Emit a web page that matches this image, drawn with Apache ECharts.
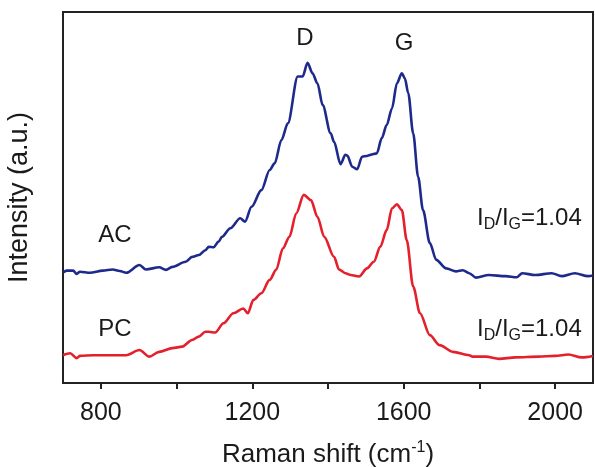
<!DOCTYPE html>
<html>
<head>
<meta charset="utf-8">
<script src="https://cdn.jsdelivr.net/npm/echarts@6/dist/echarts.min.js"></script>
<style>
html,body{margin:0;padding:0;background:#fff;}
#c{width:595px;height:467px;}
</style>
</head>
<body>
<div id="c"></div>
<script>
// Raman shift (cm-1) and intensity (a.u.)
var acShift = [700,710,727,736,745,771,805,831,850,867,902,919,954,972,989,1024,1041,1059,1076,1085,1098,1111,1120,1142,1168,1181,1198,1224,1246,1259,1277,1294,1320,1333,1346,1359,1372,1386,1407,1416,1433,1446,1451,1464,1477,1490,1503,1512,1529,1542,1555,1569,1582,1595,1603,1612,1625,1638,1651,1669,1686,1712,1738,1756,1773,1791,1825,1869,1899,1913,1947,1991,2017,2052,2087,2100];
var acIntensity = [29.8,30.3,30.3,29.4,30.0,29.7,30.3,30.6,30.2,29.7,31.8,30.6,31.2,30.5,31.3,32.7,34.0,34.5,35.8,36.7,36.6,38.1,39.4,41.7,44.4,43.5,47.5,52.0,57.4,59.2,65.5,70.0,82.6,82.6,86.3,83.5,80.8,74.9,67.3,65.0,59.0,61.5,61.3,58.3,57.6,61.0,61.2,61.5,61.9,66.0,69.5,74.0,80.8,83.5,82.1,78.1,67.3,55.6,46.6,37.7,33.2,30.9,30.1,30.4,29.6,28.4,29.1,28.8,28.5,29.6,29.1,29.6,28.8,29.6,28.8,29.0];

var pcShift = [700,719,736,745,780,824,867,902,928,954,989,1015,1041,1059,1076,1085,1102,1124,1150,1176,1188,1203,1224,1246,1263,1281,1298,1316,1336,1355,1372,1390,1416,1429,1446,1460,1482,1503,1521,1538,1555,1569,1582,1595,1608,1625,1643,1669,1695,1730,1773,1782,1817,1852,1895,1956,2000,2035,2070,2100];
var pcIntensity = [7.5,8.0,6.7,7.3,7.5,7.5,7.5,8.9,7.1,8.4,9.4,9.8,11.6,12.5,13.8,13.8,13.6,16.1,18.8,20.1,18.8,22.4,24.2,27.8,30.5,36.3,39.4,45.7,50.7,49.3,44.8,39.4,34.0,30.6,29.6,29.1,28.7,30.9,32.7,36.7,41.2,47.1,48.2,46.6,38.5,26.0,18.8,12.9,10.2,8.4,7.5,7.1,7.1,6.5,6.9,7.1,7.3,7.7,6.9,7.3];

var tickValues = [800,1000,1200,1400,1600,1800,2000];
var labelValues = [800,1200,1600,2000];
var ratioText = '1.04';

function pairs(xs, ys){ return xs.map(function(x,i){ return [x, ys[i]]; }); }

var FONT = '"Liberation Sans", Arial, sans-serif';
var TXT = '#1a1a1a';

var chart = echarts.init(document.getElementById('c'), null, {renderer:'canvas'});

function ratioLabel(x, y){
  return {
    type:'text', x:x, y:y,
    style:{
      text:'{a|I}{s|D}{a|/I}{s|G}{a|=' + ratioText + '}',
      align:'left', verticalAlign:'middle',
      rich:{
        a:{fontSize:24, fontFamily:FONT, fill:TXT, color:TXT, lineHeight:30, verticalAlign:'middle'},
        s:{fontSize:16, fontFamily:FONT, fill:TXT, color:TXT, lineHeight:12, verticalAlign:'bottom'}
      }
    }
  };
}
function plainLabel(text, x, y){
  return {type:'text', x:x, y:y, style:{text:text, font:'24px ' + FONT, fill:TXT, align:'center', verticalAlign:'middle'}};
}

chart.setOption({
  animation:false,
  backgroundColor:'#fff',
  grid:{left:63, right:2, top:12, bottom:84, show:true, borderColor:'#222', borderWidth:2, backgroundColor:'transparent',
        containLabel:false, outerBoundsMode:'none'},
  xAxis:{
    type:'value', min:700, max:2100,
    name:'Raman shift (cm{sup|-1})',
    nameLocation:'middle', nameGap:57,
    nameTextStyle:{
      fontSize:26, fontFamily:FONT, color:TXT,
      rich:{
        sup:{fontSize:16, fontFamily:FONT, color:TXT, lineHeight:12, verticalAlign:'top'}
      },
      lineHeight:30
    },
    axisLine:{show:true, lineStyle:{color:'#222', width:2}},
    axisTick:{show:true, inside:false, length:6, lineStyle:{color:'#222', width:2}, customValues:tickValues},
    axisLabel:{show:true, fontSize:25, fontFamily:FONT, color:TXT, margin:18, customValues:labelValues,
      formatter:function(v){ return String(v); }},
    splitLine:{show:false}
  },
  yAxis:{
    type:'value', min:0, max:100,
    name:'Intensity (a.u.)',
    nameLocation:'middle', nameGap:30,
    nameTextStyle:{fontSize:27, fontFamily:FONT, color:TXT},
    axisLine:{show:false}, axisTick:{show:false}, axisLabel:{show:false}, splitLine:{show:false}
  },
  series:[
    {name:'AC', type:'line', data:pairs(acShift, acIntensity), showSymbol:false, symbol:'none',
     lineStyle:{color:'#1d2a8c', width:2.6}, itemStyle:{color:'#1d2a8c'}, smooth:0.3, smoothMonotone:'x'},
    {name:'PC', type:'line', data:pairs(pcShift, pcIntensity), showSymbol:false, symbol:'none',
     lineStyle:{color:'#e3202b', width:2.6}, itemStyle:{color:'#e3202b'}, smooth:0.3, smoothMonotone:'x'}
  ],
  graphic:[
    plainLabel('D', 305, 38),
    plainLabel('G', 404, 43),
    plainLabel('AC', 115, 235),
    plainLabel('PC', 115, 329),
    ratioLabel(477, 218),
    ratioLabel(477, 329)
  ]
});
</script>
</body>
</html>
